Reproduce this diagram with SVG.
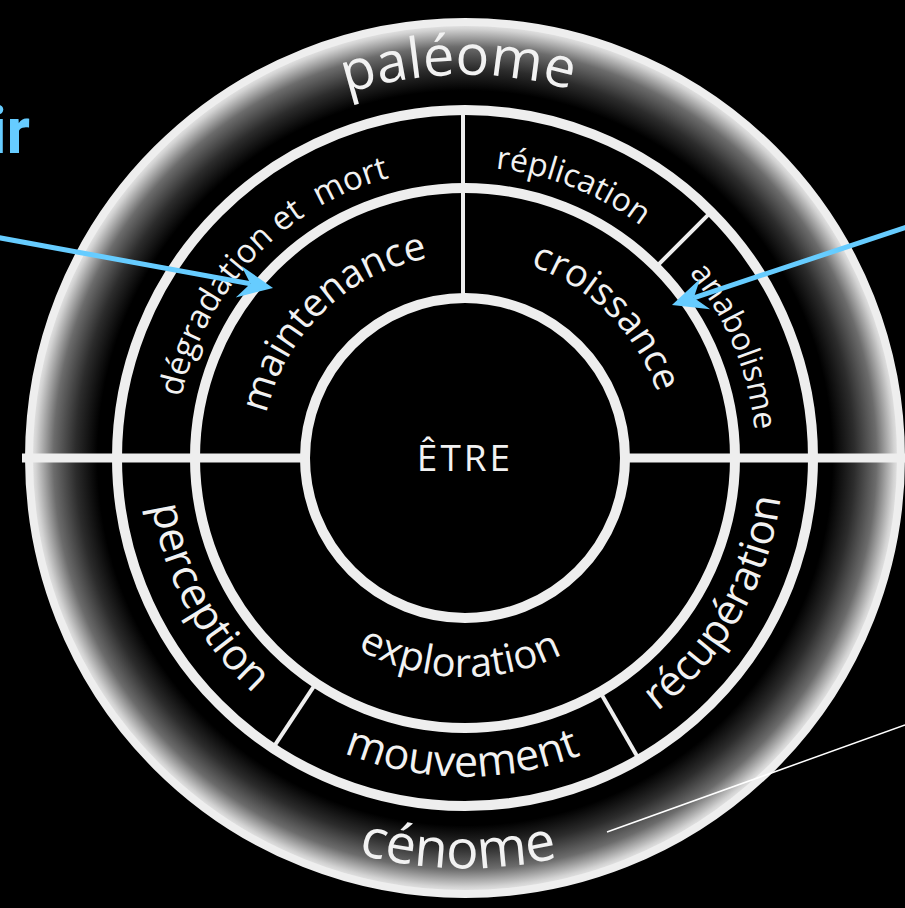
<svg xmlns="http://www.w3.org/2000/svg" xmlns:xlink="http://www.w3.org/1999/xlink" width="905" height="908" viewBox="0 0 905 908">
<style>
.ring{fill:none;stroke:#eeeeee;stroke-width:10}
.div{stroke:#eeeeee;stroke-width:4;fill:none}
.hdiv{stroke:#eeeeee;stroke-width:9;fill:none}
.lbl{font-family:"Open Sans","Liberation Sans",sans-serif;fill:#f2f2f2;text-anchor:middle}
.arrow{stroke:#66ccff;stroke-width:5;fill:none;marker-end:url(#ah)}
</style>
<defs>
<radialGradient id="glow" gradientUnits="userSpaceOnUse" cx="465" cy="458" r="440">
<stop offset="0.80" stop-color="#000"/>
<stop offset="0.835" stop-color="#000"/>
<stop offset="0.885" stop-color="#2c2c2c"/>
<stop offset="0.935" stop-color="#6c6c6c"/>
<stop offset="0.975" stop-color="#d2d2d2"/>
<stop offset="1" stop-color="#fff"/>
</radialGradient>
<marker id="ah" markerUnits="userSpaceOnUse" viewBox="-30 -30 60 60" markerWidth="60" markerHeight="60" refX="0" refY="0" orient="auto" overflow="visible">
<path d="M23,0 L-12,-16 L0,0 L-12,16 Z" fill="#66ccff"/>
</marker>
<path id="pPaleome" d="M82.9,431.3 A383,383 0 0 1 845.9,418.0"/>
<path id="pCenome" d="M56.0,486.6 A410,410 0 0 0 872.8,500.9"/>
<path id="pMaint" d="M307.2,585.8 A203,203 0 0 1 598.2,304.8"/>
<path id="pCroiss" d="M334.5,302.5 A203,203 0 0 1 620.5,588.5"/>
<path id="pDegr" d="M247.8,650.2 A290,290 0 0 1 645.5,231.0"/>
<path id="pRepl" d="M204.8,327.7 A291,291 0 0 1 743.9,541.1"/>
<path id="pAnab" d="M377.5,180.5 A291,291 0 0 1 599.4,716.1"/>
<path id="pPerc" d="M290.5,193.4 A317,317 0 0 0 590.9,748.9"/>
<path id="pRecup" d="M330.6,746.2 A318,318 0 0 0 647.4,197.5"/>
<path id="pMouv" d="M147.0,483.0 A319,319 0 0 0 782.5,488.6"/>
<path id="pExpl" d="M246.4,471.4 A219,219 0 0 0 682.6,482.8"/>
</defs>
<rect x="0" y="0" width="905" height="908" fill="#000"/>

<g id="outer-ring">
<circle cx="465" cy="458" r="437" fill="url(#glow)"/>
<circle cx="465" cy="458" r="348" fill="#000"/>
<circle cx="465" cy="458" r="436" fill="none" stroke="#eeeeee" stroke-width="8"/>
</g>

<g id="dividers">
<line class="hdiv" x1="22" y1="458" x2="305" y2="458"/>
<line class="hdiv" x1="625" y1="458" x2="905" y2="458"/>
<line class="div" x1="463" y1="110" x2="463" y2="298"/>
<line class="div" x1="655.9" y1="267.1" x2="711.1" y2="211.9"/>
<line class="div" x1="316.0" y1="683.2" x2="272.9" y2="748.2"/>
<line class="div" x1="600" y1="691.8" x2="639" y2="759.4"/>
</g>

<g id="circles">
<circle class="ring" cx="465" cy="458" r="348"/>
<circle class="ring" cx="465" cy="458" r="270"/>
<circle class="ring" cx="465" cy="458" r="160"/>
</g>

<g id="paleome"><text class="lbl" font-size="56"><textPath href="#pPaleome" startOffset="50%">paléome</textPath></text></g>
<g id="cenome"><text class="lbl" font-size="54"><textPath href="#pCenome" startOffset="50%">cénome</textPath></text></g>
<g id="etre"><text class="lbl" x="465" y="471" font-size="37" letter-spacing="3">ÊTRE</text></g>
<g id="maintenance"><text class="lbl" font-size="39"><textPath href="#pMaint" startOffset="50%">maintenance</textPath></text></g>
<g id="croissance"><text class="lbl" font-size="38"><textPath href="#pCroiss" startOffset="50%">croissance</textPath></text></g>
<g id="exploration"><text class="lbl" font-size="40"><textPath href="#pExpl" startOffset="50%">exploration</textPath></text></g>
<g id="degradation"><text class="lbl" font-size="33"><textPath href="#pDegr" startOffset="50%">dégradation et <tspan dx="8">mort</tspan></textPath></text></g>
<g id="replication"><text class="lbl" font-size="32"><textPath href="#pRepl" startOffset="50%">réplication</textPath></text></g>
<g id="anabolisme"><text class="lbl" font-size="32"><textPath href="#pAnab" startOffset="50%">anabolisme</textPath></text></g>
<g id="perception"><text class="lbl" font-size="43"><textPath href="#pPerc" startOffset="50%">perception</textPath></text></g>
<g id="mouvement"><text class="lbl" font-size="43"><textPath href="#pMouv" startOffset="50%">mouvement</textPath></text></g>
<g id="recuperation"><text class="lbl" font-size="42"><textPath href="#pRecup" startOffset="50%">récupération</textPath></text></g>

<g id="caption"><text x="30" y="153" font-family="Roboto,'Liberation Sans',sans-serif" font-weight="bold" font-size="64" fill="#66ccff" text-anchor="end">ir</text></g>

<g id="connectors">
<line class="arrow" x1="-5" y1="237" x2="250.4" y2="283.8"/>
<line class="arrow" x1="910" y1="226" x2="693.8" y2="297.8"/>
<line x1="607" y1="832" x2="905" y2="725" stroke="#ffffff" stroke-width="1.5"/>
</g>
</svg>
